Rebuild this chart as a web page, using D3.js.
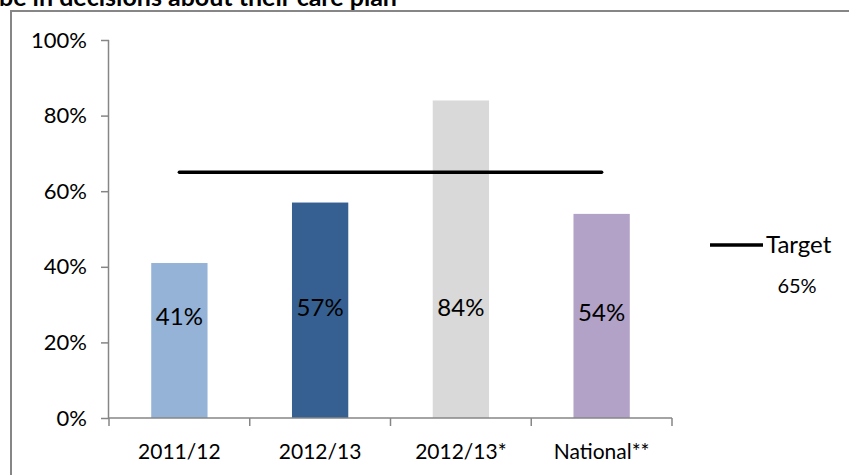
<!DOCTYPE html>
<html>
<head>
<meta charset="utf-8">
<script src="https://cdn.jsdelivr.net/npm/d3@7"></script>
<style>
  html, body { margin: 0; padding: 0; background: #fff; }
  svg { display: block; font-family: Lato, "Open Sans", sans-serif; }
</style>
</head>
<body>
<svg id="chart" width="849" height="475"></svg>
<script>
// Share of respondents, by period
const categories = ["2011/12", "2012/13", "2012/13*", "National**"];
const values = [0.41, 0.57, 0.84, 0.54];
const barColors = ["#95B3D7", "#376092", "#D9D9D9", "#B3A2C7"];
const valueLabels = ["41%", "57%", "84%", "54%"];
const target = 0.65;
const targetLabel = "Target";
const targetValueLabel = "65%";
const yTicks = [0, 0.2, 0.4, 0.6, 0.8, 1.0];
const titleText = "be in decisions about their care plan";

const svg = d3.select("#chart");
const plot = { left: 109, right: 672, top: 40, bottom: 418 };

const x = d3.scaleBand().domain(categories)
  .range([plot.left, plot.right]).paddingInner(0.6).paddingOuter(0.3);
const y = d3.scaleLinear().domain([0, 1]).range([plot.bottom, plot.top]);

// Title (its upper part runs off the top of the page)
svg.append("text")
  .attr("x", -1).attr("y", 6)
  .attr("font-weight", "bold").attr("font-size", 25)
  .attr("fill", "#000")
  .text(titleText);

// Chart frame
svg.append("rect")
  .attr("x", 11).attr("y", 11).attr("width", 900).attr("height", 500)
  .attr("fill", "none").attr("stroke", "#868686").attr("stroke-width", 2);

// Bars
svg.append("g").selectAll("rect").data(values).join("rect")
  .attr("x", (d, i) => x(categories[i]))
  .attr("y", d => y(d))
  .attr("width", x.bandwidth())
  .attr("height", d => y(0) - y(d))
  .attr("fill", (d, i) => barColors[i]);

// Y axis
const yAxis = d3.axisLeft(y).tickValues(yTicks)
  .tickFormat(d3.format(".0%")).tickSize(8).tickPadding(14);
const gy = svg.append("g").attr("transform", `translate(${plot.left},0)`).call(yAxis);
gy.select(".domain").attr("stroke", "#868686").attr("stroke-width", 1.5)
  .attr("d", `M${-0.5},${plot.top}V${plot.bottom}`);
gy.selectAll(".tick line").attr("stroke", "#868686").attr("stroke-width", 1.5);
gy.selectAll(".tick text").attr("font-size", 22).attr("fill", "#000")
  .attr("font-family", "Lato, sans-serif");

// X axis with boundary ticks between categories
const gx = svg.append("g").attr("transform", `translate(0,${plot.bottom})`);
gx.append("line").attr("x1", plot.left).attr("x2", plot.right)
  .attr("stroke", "#868686").attr("stroke-width", 1.5);
const step = x.step();
const bounds = d3.range(categories.length + 1).map(i => plot.left + i * step);
gx.selectAll(".bt").data(bounds).join("line")
  .attr("x1", d => d).attr("x2", d => d).attr("y1", 0).attr("y2", 8)
  .attr("stroke", "#868686").attr("stroke-width", 1.5);
gx.selectAll(".cl").data(categories).join("text")
  .attr("x", d => x(d) + x.bandwidth() / 2)
  .attr("y", 41)
  .attr("text-anchor", "middle").attr("font-size", 21).attr("fill", "#000")
  .text(d => d);

// Value labels inside the bars
const labelLevels = [0.268, 0.294, 0.294, 0.28];
svg.append("g").selectAll("text").data(valueLabels).join("text")
  .attr("x", (d, i) => x(categories[i]) + x.bandwidth() / 2)
  .attr("y", (d, i) => y(labelLevels[i]))
  .attr("dy", "0.36em")
  .attr("text-anchor", "middle").attr("font-size", 24).attr("fill", "#000")
  .text(d => d);

// Target line across the category centres
const cx0 = x(categories[0]) + x.bandwidth() / 2;
const cx1 = x(categories[categories.length - 1]) + x.bandwidth() / 2;
svg.append("line")
  .attr("x1", cx0).attr("x2", cx1).attr("y1", y(target)).attr("y2", y(target))
  .attr("stroke", "#000").attr("stroke-width", 3.5).attr("stroke-linecap", "round");

// Legend
svg.append("line").attr("x1", 710).attr("x2", 763).attr("y1", 245).attr("y2", 245)
  .attr("stroke", "#000").attr("stroke-width", 3.5);
svg.append("text").attr("x", 766).attr("y", 253)
  .attr("font-size", 24).attr("fill", "#000").text(targetLabel);
svg.append("text").attr("x", 797).attr("y", 293).attr("text-anchor", "middle")
  .attr("font-size", 20).attr("fill", "#000").text(targetValueLabel);
</script>
</body>
</html>
